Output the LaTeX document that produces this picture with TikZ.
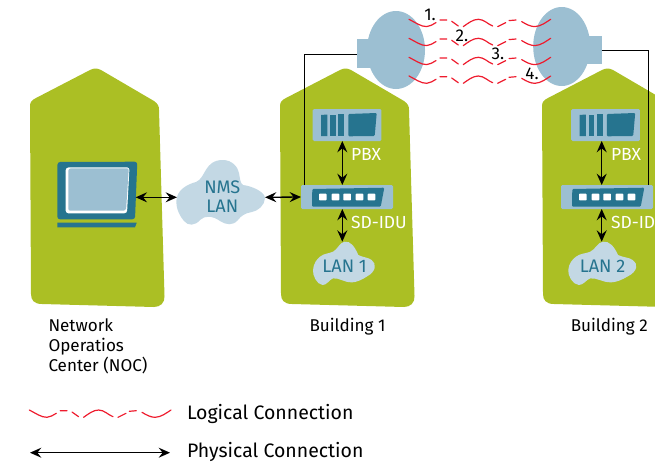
\documentclass[tikz,border=0pt]{standalone}
\usepackage{fontspec}
\setmainfont{Fira Sans}
\usetikzlibrary{arrows.meta}
\definecolor{bgreen}{HTML}{ABBF24}
\definecolor{teal}{HTML}{26748F}
\definecolor{steel}{HTML}{9CBFD2}
\definecolor{pale}{HTML}{C3D8E4}
\definecolor{wavered}{HTML}{EE1C2E}
\tikzset{
  x=0.75pt,y=-0.75pt,
  every node/.style={inner sep=0pt,outer sep=0pt},
  building/.pic={\fill[bgreen] (30,106) .. controls (30,102) and (32,100) .. (36,98) -- (90,70) .. controls (94,68) and (97,68) .. (101,70) -- (154,101) .. controls (158,104) and (159,106) .. (159,110) -- (164.5,296) .. controls (165,303) and (160,307) .. (154,307) -- (42,304) .. controls (34,304) and (31,300) .. (31,294) -- cycle;},
  logicwave/.pic={
    \draw[wavered,line width=0.9pt,line cap=round]
      (0,0) .. controls (6,3) and (12,7.5) .. (17.7,7.3) .. controls (21,7.2) and (24,5) .. (27,3.3)
      (31,0.7) -- (37.7,0.7)
      (42.7,2) -- (49.3,6.7)
      (54.3,7.3) .. controls (59,4) and (64,0) .. (69.3,0) .. controls (75,0) and (79,5) .. (83.7,6.7)
      (88.7,7.3) -- (96.7,3.3)
      (100,1.3) -- (107,0.7)
      (112.7,2.3) .. controls (117,5) and (122,7.5) .. (126,7.3) .. controls (132,7) and (137,3) .. (141.7,0);},
  pbxbars/.pic={
    \fill[teal] (8.3,6) -- (14.6,5.5) -- (14.6,27) -- (8.3,27) -- cycle;
    \fill[teal] (17.3,5.5) -- (23,5.5) -- (23,27) -- (17.3,27) -- cycle;
    \fill[teal] (25.6,5) -- (31.3,5) -- (31.3,27) -- (25.6,27) -- cycle;
    \fill[teal,rounded corners=0.8pt] (35.6,5) -- (64,4) -- (62,27) -- (35.6,27.3) -- cycle;},
  iduface/.pic={
    \fill[teal,rounded corners=0.8pt] (11.3,4) -- (83.3,2.7) -- (79.7,21.7) -- (11,21.7) -- cycle;
    \foreach \q in {18,30.7,42.3,54.7,66.7}{\fill[white,rounded corners=0.5pt] (\q,8.7) rectangle ++(7.6,6.6);}},
  lancloud/.pic={\fill[pale] (0,-21.7) .. controls (6,-22.5) and (10,-17) .. (13.7,-8.4) .. controls (18,-6) and (24,-6) .. (27,-3.4) .. controls (32,0) and (32,8) .. (22,13.3) .. controls (18,16) and (12,19) .. (7,19) .. controls (1,19.5) and (-6,14) .. (-11.6,15) .. controls (-15,16) and (-18,22) .. (-22,21.6) .. controls (-28,21) and (-32,12) .. (-31.6,6.6) .. controls (-31,0) and (-28,-4) .. (-24.6,-6.7) .. controls (-21,-10) and (-15,-10) .. (-11.6,-11.7) .. controls (-7,-14) and (-5,-21) .. (0,-21.7) -- cycle;},
  lbl/.style={font=\fontsize{12.8}{15}\selectfont,text=black},
  bigl/.style={font=\fontsize{14.6}{17}\selectfont,text=black},
  whitel/.style={font=\fontsize{13.1}{15}\selectfont,text=white},
  lanl/.style={font=\fontsize{13.6}{15.5}\selectfont,text=teal,align=center},
  lightbox/.style={fill=steel,rounded corners=1pt},
  phys/.style={{Stealth[length=8.5pt,width=7.5pt,inset=3pt]}-{Stealth[length=8.5pt,width=7.5pt,inset=3pt]},line width=1pt,black},
  wire/.style={line width=0.7pt,black}
}
\begin{document}
\begin{tikzpicture}
\useasboundingbox (0,0) rectangle (655,464);
\begin{scope}
\clip (0,0) rectangle (655,464);
\pic at (0,0) {building};
\pic at (250,0) {building};
\pic at (512,0) {building};
\end{scope}
% dishes
\fill[steel] (356.7,39) rectangle (372,68);
\fill[steel] (396,50) ellipse [x radius=29,y radius=39];
\fill[steel] (585,36) rectangle (601.7,64);
\fill[steel] (561.7,46.5) ellipse [x radius=28.5,y radius=39.5];
\coordinate (dishL) at (356.7,54);
\coordinate (dishR) at (601.7,50);
% laptop
\fill[teal,rounded corners=2pt] (57.5,162) -- (137.3,161.7) -- (135,219.3) -- (57.3,219.3) -- cycle;
\fill[white,rounded corners=2pt] (65.7,167.5) -- (129.5,167.3) -- (127,213.3) -- (65.7,213.3) -- cycle;
\fill[steel,rounded corners=1.5pt] (68.5,168.5) -- (128.8,168.3) -- (126,210.7) -- (68.3,210.7) -- cycle;
\fill[teal] (57.3,222.7) -- (136.7,222.7) -- (135,227.3) -- (57.5,227.3) -- cycle;
\node[minimum width=59pt,minimum height=43pt] (noc) at (96.7,197.3) {};
% NMS cloud
\fill[pale] (223,160) .. controls (232,160) and (238,167) .. (239,173) .. controls (240,178) and (240,183) .. (243,185)
  .. controls (252,186) and (265,192) .. (265,198) .. controls (265,205) and (258,211) .. (252,212)
  .. controls (245,213) and (241,216) .. (238,220) .. controls (233,226) and (226,225) .. (220,221)
  .. controls (213,216) and (205,215) .. (200,220) .. controls (195,226) and (188,226) .. (184,221)
  .. controls (178,214) and (175,205) .. (177,197) .. controls (179,189) and (188,184) .. (196,182)
  .. controls (206,178) and (204,160) .. (223,160) -- cycle;
\node[lanl,minimum width=66pt,minimum height=30pt] (nms) at (221,197.3) {};
\node[lanl] (nmstop) at (222.3,187.7) {NMS};
\node[lanl] (nmsbot) at (222.3,206.7) {LAN};
% building 1 devices
\node[lightbox,minimum width=51.5pt,minimum height=24pt] (pbx1) at (347,125) {};
\pic at (312.7,109) {pbxbars};
\node[lightbox,minimum width=69pt,minimum height=18pt] (idu1) at (347,197) {};
\pic at (301,185) {iduface};
\pic at (344.6,263.4) {lancloud};
\node[lanl,minimum width=46pt,minimum height=36.5pt] (lan1) at (344.6,266) {LAN 1};
\coordinate (bus1) at (342.3,240);
\node[whitel,anchor=west] (pbxt1) at (351,154) {PBX};
\node[whitel,anchor=west] (idut1) at (351,222) {SD-IDU};
% building 2 devices
\node[lightbox,minimum width=51.5pt,minimum height=24pt] (pbx2) at (605.5,125) {};
\pic at (571.2,109) {pbxbars};
\node[lightbox,minimum width=69pt,minimum height=18pt] (idu2) at (607,197) {};
\pic at (561,185) {iduface};
\pic[xscale=1.1] at (603,263.4) {lancloud};
\node[lanl,minimum width=46pt,minimum height=36.5pt] (lan2) at (602.6,266) {LAN 2};
\coordinate (bus2) at (601.7,240);
\node[whitel,anchor=west] (pbxt2) at (611,154) {PBX};
\node[whitel,anchor=west] (idut2) at (611,222) {SD-ID};
% wires
\coordinate (tapL) at (304,185);
\coordinate (tapR) at (648.3,185);
\draw[wire] (tapL) |- (dishL);
\draw[wire] (dishR) -| (tapR);
% physical connections
\draw[phys] (135.7,197.3) -- (nms.west);
\draw[phys] (nms.east) -- (idu1.west);
\draw[phys] (bus1 |- pbx1.south) -- (bus1 |- idu1.north);
\draw[phys] (bus1 |- idu1.south) -- (bus1 |- lan1.north);
\draw[phys] (bus2 |- pbx2.south) -- (bus2 |- idu2.north);
\draw[phys] (bus2 |- idu2.south) -- (bus2 |- lan2.north);
% logical connections
\foreach \w in {19.3,38.3,57.3,76}{\pic at (409,\w) {logicwave};}
\node[lbl] (n1) at (430,15) {1.};
\node[lbl] (n2) at (462,36) {2.};
\node[lbl] (n3) at (498,54) {3.};
\node[lbl] (n4) at (532,74) {4.};
% captions
\node[lbl,anchor=base west] (cap1) at (48.5,331) {Network};
\node[lbl,anchor=base west] (cap2) at (48.5,351) {Operatios};
\node[lbl,anchor=base west] (cap3) at (48.5,371) {Center (NOC)};
\node[lbl,anchor=base] (b1) at (347.5,331) {Building 1};
\node[lbl,anchor=base] (b2) at (609.3,331) {Building 2};
% legend
\pic at (29.3,410) {logicwave};
\coordinate (legA) at (30,452.7);
\coordinate (legB) at (170,452.7);
\draw[phys] (legA) -- (legB);
\node[bigl,anchor=base west] (leg1) at (187,419) {Logical Connection};
\node[bigl,anchor=base west] (leg2) at (187,457) {Physical Connection};
\end{tikzpicture}
\end{document}
